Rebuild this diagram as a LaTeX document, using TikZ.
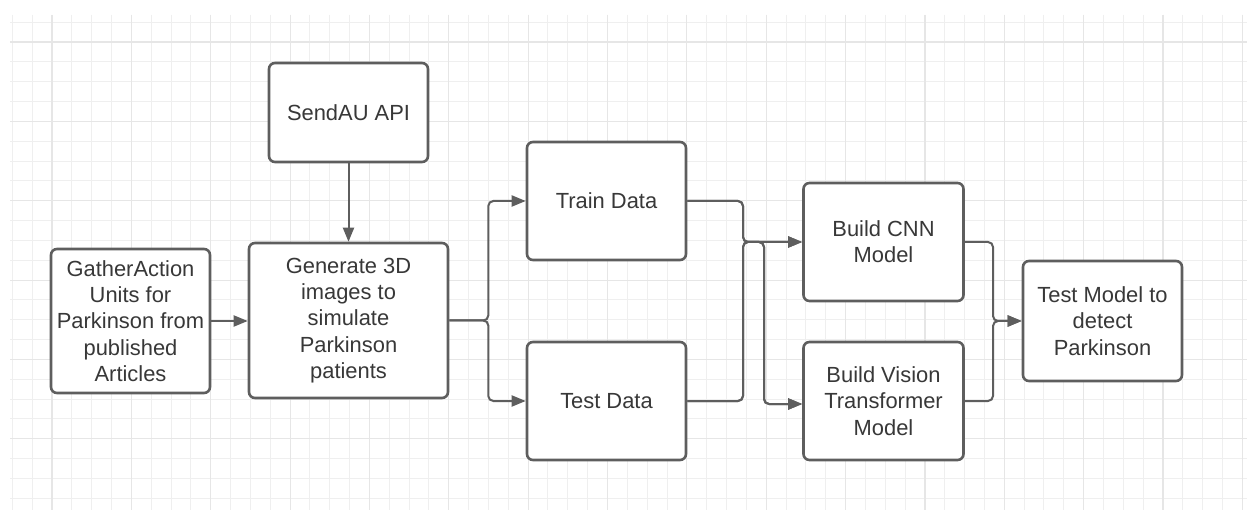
\documentclass[tikz,border=0pt]{standalone}
\usepackage{fontspec}
\setmainfont{Liberation Sans}
\usetikzlibrary{arrows.meta}
\definecolor{gridminor}{HTML}{EFEFEF}
\definecolor{gridmajor}{HTML}{E6E6E6}
\definecolor{boxline}{HTML}{5E5E5E}
\definecolor{txt}{HTML}{383838}
\tikzset{
  box/.style={draw=boxline, line width=2.6pt, rounded corners=6pt, fill=white,
    align=center, inner sep=0pt, text=txt,
    font=\fontsize{21.9}{26.3}\selectfont},
  conn/.style={draw=boxline, line width=2pt, rounded corners=5pt},
  arr/.style={conn, -{Triangle[length=14pt,width=11pt]}},
  gridline/.style={draw=gridminor, line width=1pt},
  gridbold/.style={draw=gridmajor, line width=1.1pt},
}
\begin{document}
\begin{tikzpicture}[x=1pt,y=-1pt]
\useasboundingbox (0,0) rectangle (1247,510);
\fill[white] (0,0) rectangle (1247,510);
% grid
\foreach \k in {0,...,62} \draw[gridline] ({12.3+19.84*\k},15) -- ({12.3+19.84*\k},510);
\foreach \k in {0,...,24} \draw[gridline] (10,{22.15+19.84*\k}) -- (1247,{22.15+19.84*\k});
\foreach \k in {2,6,...,62} \draw[gridbold] ({12.3+19.84*\k},15) -- ({12.3+19.84*\k},510);
\foreach \k in {1,5,...,21} \draw[gridbold] (10,{22.15+19.84*\k}) -- (1247,{22.15+19.84*\k});

% nodes
\node[box, minimum width=159pt, minimum height=144pt] (gather) at (130.5,321)
  {GatherAction\\Units for\\Parkinson from\\published\\Articles};
\node[box, minimum width=199pt, minimum height=155pt] (gen) at (348.5,320.5)
  {Generate 3D\\images to\\simulate\\Parkinson\\patients};
\node[box, minimum width=159pt, minimum height=99pt] (send) at (348.5,112.5)
  {SendAU API};
\node[box, minimum width=159pt, minimum height=118pt] (train) at (606.5,201)
  {Train Data};
\node[box, minimum width=159pt, minimum height=118pt] (test) at (606.5,401)
  {Test Data};
\node[box, minimum width=160pt, minimum height=118pt] (cnn) at (883.5,242)
  {Build CNN\\Model};
\node[box, minimum width=160pt, minimum height=118pt] (vit) at (883.5,401)
  {Build Vision\\Transformer\\Model};
\node[box, minimum width=159pt, minimum height=120pt] (tm) at (1102.5,321)
  {Test Model to\\detect\\Parkinson};

% junction coordinates
\coordinate (j1) at (743,242);
\coordinate (j2) at (764,242);
\coordinate (j3) at (993,321);

% connectors
\draw[arr] (send.south) -- (gen.north);
\draw[arr] (gather.east) -- (gather.east -| gen.west);
\draw[arr] (gen.east) -- ++(39,0) |- (train.west);
\draw[arr] (gen.east) -- ++(39,0) |- (test.west);
\draw[arr] (train.east) -| (j1) -- (cnn.west);
\draw[arr] (test.east) -| (j1) -- (cnn.west);
\draw[arr] (train.east) -| (j1) -- (j2) |- ([yshift=-3pt]vit.west);
\draw[arr] (test.east) -| (j1) -- (j2) |- ([yshift=-3pt]vit.west);
\draw[arr] (cnn.east) -| (j3) -- (tm.west);
\draw[arr] (vit.east) -| (j3) -- (tm.west);
\end{tikzpicture}
\end{document}
